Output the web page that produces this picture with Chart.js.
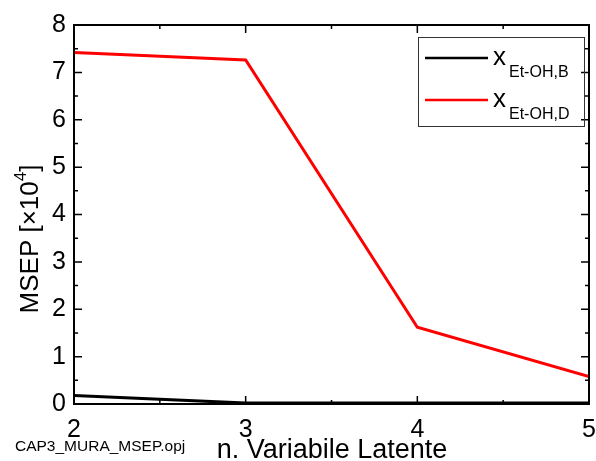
<!DOCTYPE html>
<html lang="en">
<head>
    <meta charset="UTF-8">
    <title>MSEP</title>
    <script src="https://cdn.jsdelivr.net/npm/chart.js"></script>
    <style>
        body {
            margin: 0;
            padding: 0;
            background-color: #fff;
        }

        #chart-container {
            width: 596px;
            height: 461px;
        }
    </style>
</head>
<body>
    <div id="chart-container">
        <canvas id="msepChart"></canvas>
    </div>

    <script>
        // data
        const latentVars = [2, 3, 4, 5];
        const msepB = [0.18, 0.02, 0.02, 0.02];
        const msepD = [7.42, 7.26, 1.62, 0.58];
        const seriesNames = [['x', 'Et-OH,B'], ['x', 'Et-OH,D']];
        const xTicks = [2, 3, 4, 5];
        const yTicks = [0, 1, 2, 3, 4, 5, 6, 7, 8];

        const font = '"Liberation Sans", Arial, sans-serif';

        // frame with inward ticks on all four sides + axis titles + legend
        const framePlugin = {
            id: 'frame',
            afterDraw(chart) {
                const ctx = chart.ctx;
                const a = chart.chartArea;
                const xs = chart.scales.x;
                const ys = chart.scales.y;
                ctx.save();
                ctx.strokeStyle = '#000';
                ctx.lineWidth = 2;
                ctx.strokeRect(a.left, a.top, a.right - a.left, a.bottom - a.top);

                ctx.lineWidth = 1.5;
                ctx.beginPath();
                // y ticks, major each 1, minor each 0.5
                for (let v = 0; v <= 8; v += 0.5) {
                    const y = ys.getPixelForValue(v);
                    const len = Number.isInteger(v) ? 8 : 4;
                    ctx.moveTo(a.left, y); ctx.lineTo(a.left + len, y);
                    ctx.moveTo(a.right, y); ctx.lineTo(a.right - len, y);
                }
                // x ticks
                for (let v = 2; v <= 5; v += 0.5) {
                    const x = xs.getPixelForValue(v);
                    const len = Number.isInteger(v) ? 8 : 4;
                    ctx.moveTo(x, a.bottom); ctx.lineTo(x, a.bottom - len);
                    ctx.moveTo(x, a.top); ctx.lineTo(x, a.top + len);
                }
                ctx.stroke();

                // y title with superscript
                ctx.fillStyle = '#000';
                ctx.translate(38, 239);
                ctx.rotate(-Math.PI / 2);
                ctx.textBaseline = 'alphabetic';
                ctx.font = '26px ' + font;
                const t1 = 'MSEP [\u00d710';
                const w1 = ctx.measureText(t1).width;
                ctx.font = '17px ' + font;
                const w2 = ctx.measureText('4').width;
                ctx.font = '26px ' + font;
                const w3 = ctx.measureText(']').width;
                let sx = -(w1 + w2 + w3) / 2;
                ctx.fillText(t1, sx, 0);
                ctx.font = '17px ' + font;
                ctx.fillText('4', sx + w1, -12);
                ctx.font = '26px ' + font;
                ctx.fillText(']', sx + w1 + w2, 0);
                ctx.restore();

                // x title and file note
                ctx.save();
                ctx.fillStyle = '#000';
                ctx.textAlign = 'center';
                ctx.textBaseline = 'alphabetic';
                ctx.font = '27px ' + font;
                ctx.fillText('n. Variabile Latente', 332, 458);
                ctx.textAlign = 'left';
                ctx.font = '15.5px ' + font;
                ctx.fillText('CAP3_MURA_MSEP.opj', 15, 451);

                // legend box
                ctx.strokeStyle = '#333';
                ctx.lineWidth = 1;
                ctx.strokeRect(418.5, 37.5, 166, 89);
                chart.data.datasets.forEach((ds, i) => {
                    const ly = 58 + i * 42;
                    ctx.strokeStyle = ds.borderColor;
                    ctx.lineWidth = 2.5;
                    ctx.beginPath();
                    ctx.moveTo(425, ly);
                    ctx.lineTo(488, ly);
                    ctx.stroke();
                    ctx.fillStyle = '#000';
                    ctx.font = '26px ' + font;
                    ctx.fillText(seriesNames[i][0], 493, ly + 7);
                    ctx.font = '16px ' + font;
                    ctx.fillText(seriesNames[i][1], 509, ly + 19);
                });
                ctx.restore();
            }
        };

        const config = {
            type: 'line',
            data: {
                datasets: [
                    {
                        label: 'x Et-OH,B',
                        data: latentVars.map((v, i) => ({ x: v, y: msepB[i] })),
                        borderColor: '#000000',
                        borderWidth: 3,
                        pointRadius: 0,
                        tension: 0
                    },
                    {
                        label: 'x Et-OH,D',
                        data: latentVars.map((v, i) => ({ x: v, y: msepD[i] })),
                        borderColor: '#ff0000',
                        borderWidth: 3,
                        pointRadius: 0,
                        tension: 0
                    }
                ]
            },
            options: {
                responsive: false,
                animation: false,
                layout: { padding: { top: 25, right: 0, left: 0, bottom: 0 } },
                plugins: {
                    legend: { display: false },
                    tooltip: { enabled: false }
                },
                scales: {
                    x: {
                        type: 'linear',
                        min: 2,
                        max: 5,
                        afterBuildTicks: (s) => { s.ticks = xTicks.map(v => ({ value: v })); },
                        afterFit: (s) => {
                            s.height = 57;
                            s.paddingLeft = 0;
                            s.paddingRight = 7;
                        },
                        grid: { display: false },
                        border: { display: false },
                        ticks: {
                            color: '#000',
                            padding: 3,
                            maxRotation: 0,
                            font: { family: font, size: 25 }
                        }
                    },
                    y: {
                        min: 0,
                        max: 8,
                        afterBuildTicks: (s) => { s.ticks = yTicks.map(v => ({ value: v })); },
                        afterFit: (s) => { s.width = 74; },
                        grid: { display: false },
                        border: { display: false },
                        ticks: {
                            color: '#000',
                            padding: 0,
                            font: { family: font, size: 25 }
                        }
                    }
                }
            },
            plugins: [framePlugin]
        };

        const canvas = document.getElementById('msepChart');
        canvas.width = 596;
        canvas.height = 461;
        const myChart = new Chart(canvas, config);
    </script>
</body>
</html>
